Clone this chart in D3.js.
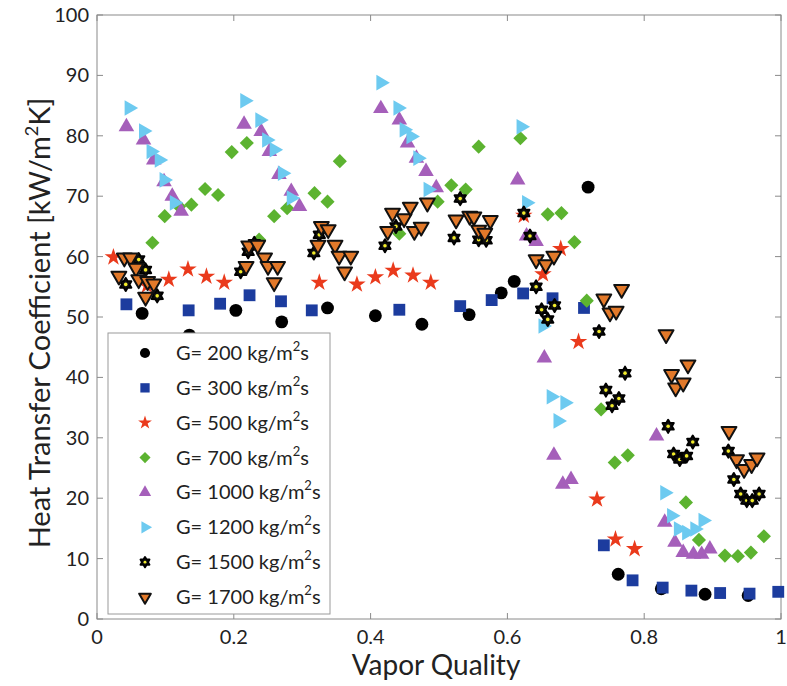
<!DOCTYPE html>
<html>
<head>
<meta charset="utf-8">
<script src="https://cdn.jsdelivr.net/npm/d3@7"></script>
<style>
  html, body { margin: 0; padding: 0; background: #fff; }
  svg { display: block; font-family: Lato, "Open Sans", sans-serif; }
</style>
</head>
<body>
<div id="chart"></div>
<script>
// vapor quality (x) and heat transfer coefficient (y) per mass flux
const q200 = [0.066, 0.135, 0.203, 0.270, 0.337, 0.407, 0.475, 0.544, 0.591, 0.610, 0.718, 0.762, 0.825, 0.889, 0.952];
const h200 = [50.6, 47.0, 51.1, 49.2, 51.5, 50.2, 48.8, 50.4, 54.0, 55.9, 71.5, 7.4, 5.0, 4.1, 3.9];

const q300 = [0.043, 0.134, 0.180, 0.223, 0.269, 0.314, 0.442, 0.531, 0.577, 0.623, 0.666, 0.712, 0.741, 0.783, 0.827, 0.869, 0.911, 0.954, 0.996];
const h300 = [52.1, 51.1, 52.2, 53.6, 52.6, 51.1, 51.2, 51.8, 52.8, 53.9, 53.1, 51.5, 12.2, 6.4, 5.2, 4.7, 4.3, 4.2, 4.5];

const q500 = [0.024, 0.073, 0.105, 0.133, 0.160, 0.186, 0.325, 0.380, 0.407, 0.433, 0.462, 0.488, 0.624, 0.652, 0.678, 0.704, 0.731, 0.758, 0.786];
const h500 = [59.9, 55.2, 56.2, 57.9, 56.7, 55.7, 55.7, 55.4, 56.6, 57.7, 56.9, 55.7, 66.8, 57.1, 61.3, 45.9, 19.8, 13.2, 11.6];

const q700 = [0.081, 0.099, 0.120, 0.138, 0.158, 0.177, 0.197, 0.219, 0.237, 0.259, 0.278, 0.318, 0.337, 0.355, 0.442, 0.498, 0.518, 0.539, 0.558, 0.619, 0.659, 0.679, 0.698, 0.716, 0.737, 0.757, 0.776, 0.861, 0.880, 0.918, 0.937, 0.956, 0.975];
const h700 = [62.3, 66.7, 68.3, 68.6, 71.2, 70.2, 77.3, 78.8, 62.8, 66.7, 68.0, 70.5, 69.1, 75.8, 63.8, 69.1, 71.8, 71.1, 78.2, 79.6, 67.0, 67.2, 62.4, 52.7, 34.7, 25.9, 27.1, 19.3, 13.1, 10.5, 10.4, 11.0, 13.7];

const q1000 = [0.043, 0.068, 0.083, 0.098, 0.110, 0.123, 0.215, 0.240, 0.252, 0.266, 0.284, 0.296, 0.415, 0.442, 0.454, 0.467, 0.481, 0.496, 0.615, 0.628, 0.642, 0.654, 0.668, 0.681, 0.693, 0.818, 0.830, 0.845, 0.857, 0.872, 0.884, 0.896];
const h1000 = [81.5, 79.3, 76.0, 72.4, 70.0, 67.5, 81.9, 80.7, 77.4, 73.6, 70.8, 68.3, 84.5, 82.6, 78.8, 76.3, 74.1, 71.4, 72.7, 63.4, 62.5, 43.2, 27.1, 22.3, 23.1, 30.3, 16.0, 12.7, 11.0, 10.7, 10.7, 11.6];

const q1200 = [0.047, 0.068, 0.079, 0.091, 0.098, 0.113, 0.216, 0.238, 0.248, 0.259, 0.271, 0.284, 0.415, 0.440, 0.449, 0.459, 0.469, 0.484, 0.620, 0.628, 0.652, 0.664, 0.674, 0.684, 0.830, 0.840, 0.850, 0.862, 0.874, 0.886];
const h1200 = [84.6, 80.8, 77.4, 76.0, 72.7, 68.9, 85.8, 82.6, 79.3, 77.7, 73.8, 69.7, 88.8, 84.6, 81.0, 79.9, 76.3, 71.1, 81.5, 68.9, 48.5, 36.8, 32.8, 35.8, 20.9, 17.1, 14.9, 14.3, 14.9, 16.3];

const q1500 = [0.042, 0.061, 0.071, 0.088, 0.210, 0.221, 0.230, 0.317, 0.325, 0.421, 0.437, 0.522, 0.531, 0.558, 0.569, 0.624, 0.633, 0.642, 0.650, 0.659, 0.669, 0.734, 0.744, 0.753, 0.763, 0.772, 0.835, 0.843, 0.852, 0.862, 0.871, 0.923, 0.931, 0.941, 0.950, 0.958, 0.968];
const h1500 = [55.4, 59.5, 57.8, 53.5, 57.5, 60.8, 62.2, 60.6, 63.6, 61.8, 65.0, 63.1, 69.6, 62.8, 62.7, 67.2, 63.4, 55.0, 51.2, 49.6, 51.9, 47.6, 37.9, 35.3, 36.5, 40.7, 31.9, 27.3, 26.4, 27.0, 29.3, 27.8, 23.1, 20.7, 19.6, 19.6, 20.7];

const q1700 = [0.032, 0.040, 0.049, 0.057, 0.061, 0.071, 0.074, 0.083, 0.218, 0.222, 0.235, 0.245, 0.250, 0.264, 0.259, 0.323, 0.328, 0.338, 0.348, 0.354, 0.371, 0.362, 0.425, 0.432, 0.449, 0.458, 0.464, 0.474, 0.483, 0.525, 0.545, 0.551, 0.558, 0.567, 0.575, 0.642, 0.656, 0.668, 0.741, 0.750, 0.759, 0.767, 0.832, 0.840, 0.846, 0.857, 0.864, 0.924, 0.935, 0.946, 0.957, 0.965];
const h1700 = [56.8, 59.8, 59.8, 58.1, 56.2, 53.3, 55.9, 55.5, 58.4, 61.8, 61.9, 59.8, 58.4, 58.4, 55.7, 61.9, 65.0, 64.5, 61.9, 60.1, 60.1, 57.5, 64.2, 67.2, 66.3, 68.2, 64.2, 64.9, 68.9, 66.1, 66.7, 66.6, 64.4, 63.9, 66.0, 59.5, 58.7, 60.1, 53.0, 50.7, 51.0, 54.6, 47.1, 40.5, 38.3, 39.1, 42.1, 31.1, 26.4, 24.8, 25.6, 26.7];

const massFlux = [200, 300, 500, 700, 1000, 1200, 1500, 1700];
const xTicks = [0, 0.2, 0.4, 0.6, 0.8, 1];
const yTicks = [0, 10, 20, 30, 40, 50, 60, 70, 80, 90, 100];

// six-pointed star, not in d3's symbol set
const symbolHexagram = {
  draw(ctx, size) {
    const r = Math.sqrt(size) * 0.62;
    const ri = r * 0.58;
    for (let i = 0; i < 12; i++) {
      const a = -Math.PI / 2 + i * Math.PI / 6;
      const rr = i % 2 ? ri : r;
      const px = rr * Math.cos(a), py = rr * Math.sin(a);
      i ? ctx.lineTo(px, py) : ctx.moveTo(px, py);
    }
    ctx.closePath();
  }
};

const series = [
  { q: q200,  h: h200,  type: d3.symbolCircle,   size: 130, rot: 0,   fill: "#000000", stroke: "none" },
  { q: q300,  h: h300,  type: d3.symbolSquare,   size: 140, rot: 0,   fill: "#1c3c9e", stroke: "none" },
  { q: q500,  h: h500,  type: d3.symbolStar,     size: 95,  rot: 0,   fill: "#ea3a1c", stroke: "none" },
  { q: q700,  h: h700,  type: d3.symbolSquare,   size: 100, rot: 45,  fill: "#5cb330", stroke: "none" },
  { q: q1000, h: h1000, type: d3.symbolTriangle, size: 105, rot: 0,   fill: "#a55fba", stroke: "none" },
  { q: q1200, h: h1200, type: d3.symbolTriangle, size: 105, rot: 90,  fill: "#6dcaf0", stroke: "none" },
  { q: q1500, h: h1500, type: symbolHexagram,    size: 110, rot: 0,   fill: "#111111", stroke: "#000", dot: true },
  { q: q1700, h: h1700, type: d3.symbolTriangle, size: 95,  rot: 180, fill: "#e2792a", stroke: "#111" }
];

const svg = d3.select("#chart").append("svg")
  .attr("width", 787)
  .attr("height", 686);

const x = d3.scaleLinear().domain([0, 1]).range([97, 781]);
const y = d3.scaleLinear().domain([0, 100]).range([619, 15]);

const frameColor = "#8a8a8a";

// plot frame with inward ticks on all four sides (matlab box)
svg.append("rect")
  .attr("x", x(0)).attr("y", y(100))
  .attr("width", x(1) - x(0)).attr("height", y(0) - y(100))
  .attr("fill", "#fff").attr("stroke", frameColor).attr("stroke-width", 1);

const tickLen = 6;
svg.append("g").selectAll("line").data(xTicks).join("line")
  .attr("x1", d => x(d)).attr("x2", d => x(d))
  .attr("y1", y(0)).attr("y2", y(0) - tickLen)
  .attr("stroke", frameColor);
svg.append("g").selectAll("line").data(xTicks).join("line")
  .attr("x1", d => x(d)).attr("x2", d => x(d))
  .attr("y1", y(100)).attr("y2", y(100) + tickLen)
  .attr("stroke", frameColor);
svg.append("g").selectAll("line").data(yTicks).join("line")
  .attr("x1", x(0)).attr("x2", x(0) + tickLen)
  .attr("y1", d => y(d)).attr("y2", d => y(d))
  .attr("stroke", frameColor);
svg.append("g").selectAll("line").data(yTicks).join("line")
  .attr("x1", x(1)).attr("x2", x(1) - tickLen)
  .attr("y1", d => y(d)).attr("y2", d => y(d))
  .attr("stroke", frameColor);

// tick labels
svg.append("g").selectAll("text").data(xTicks).join("text")
  .attr("x", d => x(d)).attr("y", y(0) + 25)
  .attr("text-anchor", "middle")
  .attr("font-size", 20).attr("fill", "#222")
  .text(d => d3.format("~g")(d));
svg.append("g").selectAll("text").data(yTicks).join("text")
  .attr("x", x(0) - 8).attr("y", d => y(d) + 7)
  .attr("text-anchor", "end")
  .attr("font-size", 20).attr("fill", "#222")
  .text(d => d);

// axis titles
svg.append("text")
  .attr("x", (x(0) + x(1)) / 2 - 3).attr("y", 675)
  .attr("text-anchor", "middle")
  .attr("font-size", 28).attr("fill", "#222")
  .text("Vapor Quality");

const yTitle = svg.append("text")
  .attr("transform", `translate(50,${(y(0) + y(100)) / 2 + 6}) rotate(-90)`)
  .attr("text-anchor", "middle")
  .attr("font-size", 29).attr("fill", "#222");
yTitle.append("tspan").text("Heat Transfer Coefficient [kW/m");
yTitle.append("tspan").attr("font-size", 18).attr("dy", -12).text("2");
yTitle.append("tspan").attr("dy", 12).text("K]");

function symPath(s, scale) {
  return d3.symbol().type(s.type).size(s.size * scale)();
}

function drawMarker(sel, s, scale) {
  sel.append("path")
    .attr("d", symPath(s, scale))
    .attr("transform", `rotate(${s.rot})`)
    .attr("fill", s.fill)
    .attr("stroke", s.stroke)
    .attr("stroke-width", s.stroke === "none" ? 0 : 2)
    .attr("stroke-linejoin", "round");
  if (s.dot) {
    sel.append("circle").attr("r", 1.8 * Math.sqrt(scale)).attr("fill", "#f2ec2a");
  }
}

// scatter points
series.forEach(s => {
  const pts = s.q.map((q, i) => ({ q, h: s.h[i] }));
  svg.append("g").selectAll("g").data(pts).join("g")
    .attr("transform", d => `translate(${x(d.q)},${y(d.h)})`)
    .each(function() { drawMarker(d3.select(this), s, 1); });
});

// legend
const legend = svg.append("g");
legend.append("rect")
  .attr("x", 108).attr("y", 333)
  .attr("width", 222).attr("height", 281)
  .attr("fill", "#fff").attr("stroke", "#9a9a9a").attr("stroke-width", 1);

const rowY = d3.scaleLinear().domain([0, 7]).range([353, 597]);
series.forEach((s, i) => {
  const row = legend.append("g").attr("transform", `translate(0,${rowY(i)})`);
  drawMarker(row.append("g").attr("transform", "translate(145,0)"), s, 0.62);
  const t = row.append("text")
    .attr("x", 176).attr("y", 7)
    .attr("font-size", 20).attr("fill", "#222");
  t.append("tspan").text(`G= ${massFlux[i]} kg/m`);
  t.append("tspan").attr("font-size", 13).attr("dy", -9).text("2");
  t.append("tspan").attr("dy", 9).text("s");
});
</script>
</body>
</html>
